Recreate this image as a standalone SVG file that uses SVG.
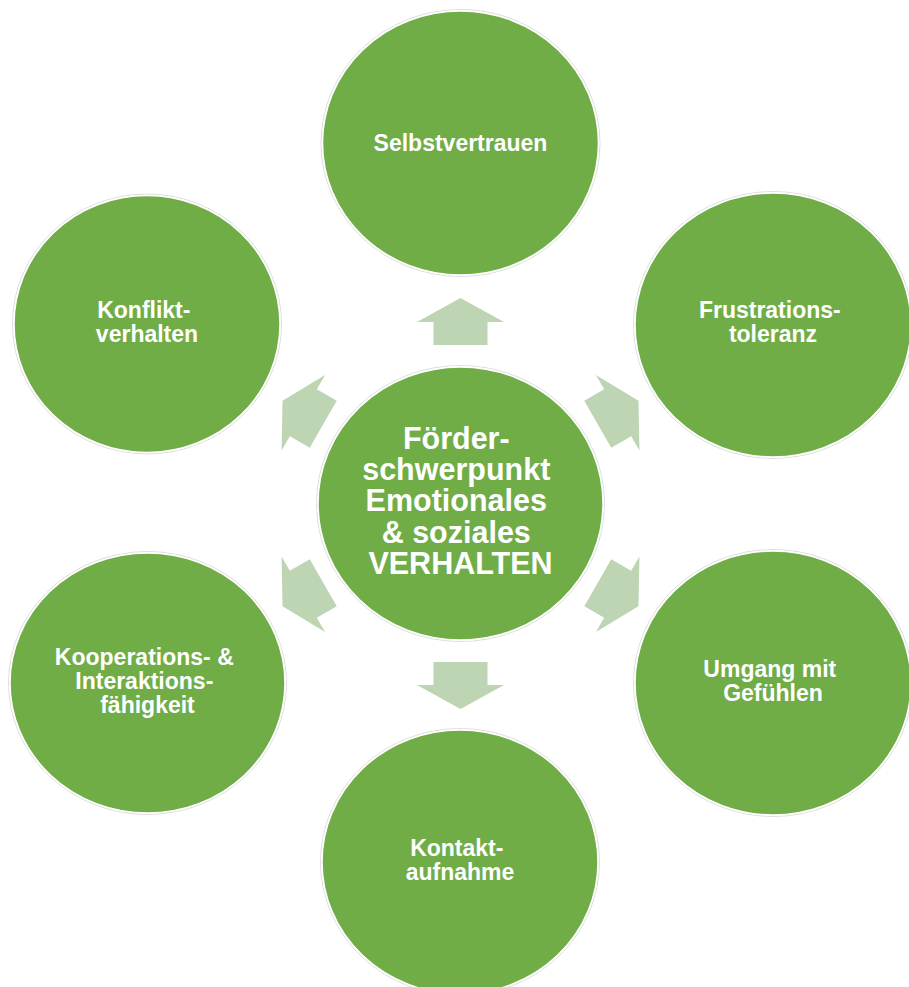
<svg xmlns="http://www.w3.org/2000/svg" width="909" height="987" viewBox="0 0 909 987">
  <style>
    .bubble { fill: #70AD47; stroke: #ffffff; stroke-width: 1.5; }
    .halo { fill: none; stroke: #d4d4d4; stroke-width: 0.8; }
    .arrow { fill: #BDD5B3; }
    .label { fill: #ffffff; font-family: "Liberation Sans", Arial, Helvetica, sans-serif; font-weight: bold; font-size: 23px; text-anchor: middle; }
    .hub { font-size: 30.5px; }
  </style>
  <defs>
    <!-- block arrow pointing up, head base on y=0 -->
    <path id="blockArrow" class="arrow" d="M0,-24 L43.5,0 L27,0 L27,23 L-27,23 L-27,0 L-43.5,0 Z"/>
  </defs>

  <rect width="909" height="987" fill="#ffffff"/>

  <!-- connectors: arrows radiating from the hub -->
  <g id="connectors">
    <use href="#blockArrow" transform="translate(460.5,503.5) rotate(0) translate(0,-181.5)"/>
    <use href="#blockArrow" transform="translate(460.5,503.5) rotate(60) translate(0,-181.5)"/>
    <use href="#blockArrow" transform="translate(460.5,503.5) rotate(120) translate(0,-181.5)"/>
    <use href="#blockArrow" transform="translate(460.5,503.5) rotate(180) translate(0,-181.5)"/>
    <use href="#blockArrow" transform="translate(460.5,503.5) rotate(240) translate(0,-181.5)"/>
    <use href="#blockArrow" transform="translate(460.5,503.5) rotate(300) translate(0,-181.5)"/>
  </g>

  <g id="hub">
    <ellipse class="halo" cx="460.5" cy="503.5" rx="144" ry="138"/>
    <ellipse class="bubble" cx="460.5" cy="503.5" rx="142.5" ry="136.5"/>
    <text class="label hub" x="460.5">
      <tspan x="460.5" y="449">Förder-</tspan>
      <tspan x="460.5" y="480">schwerpunkt</tspan>
      <tspan x="460.5" y="511">Emotionales</tspan>
      <tspan x="460.5" y="543">&amp; soziales</tspan>
      <tspan x="460.5" y="574">VERHALTEN</tspan>
    </text>
  </g>

  <g id="selbstvertrauen">
    <ellipse class="halo" cx="460.5" cy="143" rx="139.5" ry="133.5"/>
    <ellipse class="bubble" cx="460.5" cy="143" rx="138" ry="132"/>
    <text class="label" x="460.5" y="151">Selbstvertrauen</text>
  </g>

  <g id="frustrationstoleranz">
    <ellipse class="halo" cx="773" cy="325" rx="139.5" ry="133.5"/>
    <ellipse class="bubble" cx="773" cy="325" rx="138" ry="132"/>
    <text class="label">
      <tspan x="773" y="318">Frustrations-</tspan>
      <tspan x="773" y="342">toleranz</tspan>
    </text>
  </g>

  <g id="umgang-mit-gefuehlen">
    <ellipse class="halo" cx="773" cy="683" rx="139.5" ry="133.5"/>
    <ellipse class="bubble" cx="773" cy="683" rx="138" ry="132"/>
    <text class="label">
      <tspan x="773" y="677">Umgang mit</tspan>
      <tspan x="773" y="701">Gefühlen</tspan>
    </text>
  </g>

  <g id="kontaktaufnahme">
    <ellipse class="halo" cx="460" cy="862" rx="139.5" ry="133.5"/>
    <ellipse class="bubble" cx="460" cy="862" rx="138" ry="132"/>
    <text class="label">
      <tspan x="460" y="856">Kontakt-</tspan>
      <tspan x="460" y="880">aufnahme</tspan>
    </text>
  </g>

  <g id="kooperation">
    <ellipse class="halo" cx="147.5" cy="683" rx="139" ry="131.5"/>
    <ellipse class="bubble" cx="147.5" cy="683" rx="137.5" ry="130"/>
    <text class="label">
      <tspan x="147.5" y="665">Kooperations- &amp;</tspan>
      <tspan x="147.5" y="689">Interaktions-</tspan>
      <tspan x="147.5" y="713">fähigkeit</tspan>
    </text>
  </g>

  <g id="konfliktverhalten">
    <ellipse class="halo" cx="147" cy="324" rx="134.5" ry="130"/>
    <ellipse class="bubble" cx="147" cy="324" rx="133" ry="128.5"/>
    <text class="label">
      <tspan x="147" y="318">Konflikt-</tspan>
      <tspan x="147" y="342">verhalten</tspan>
    </text>
  </g>
</svg>
